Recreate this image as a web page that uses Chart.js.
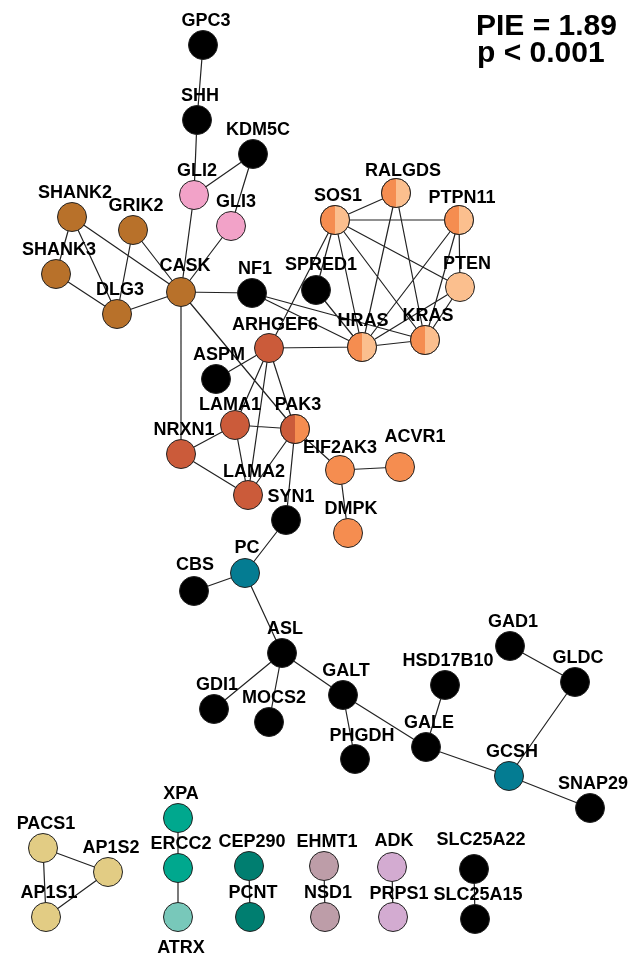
<!DOCTYPE html>
<html>
<head>
<meta charset="utf-8">
<script src="https://cdn.jsdelivr.net/npm/chart.js@4.4.1/dist/chart.umd.min.js"></script>
<style>
html,body{margin:0;padding:0;background:#fff;}
#c{display:block;}
</style>
</head>
<body>
<canvas id="c" width="637" height="956"></canvas>
<script>
// ---------- DATA ----------
const nodeNames = ["GPC3","SHH","KDM5C","GLI2","GLI3","SHANK2","GRIK2","SHANK3","CASK","DLG3","NF1","SPRED1","SOS1","RALGDS","PTPN11","PTEN","HRAS","KRAS","ARHGEF6","ASPM","LAMA1","PAK3","NRXN1","LAMA2","EIF2AK3","ACVR1","DMPK","SYN1","PC","CBS","ASL","GDI1","MOCS2","GALT","PHGDH","HSD17B10","GALE","GAD1","GLDC","GCSH","SNAP29","PACS1","AP1S2","AP1S1","XPA","ERCC2","ATRX","CEP290","PCNT","EHMT1","NSD1","ADK","PRPS1","SLC25A22","SLC25A15"];
const nodeX = [203,197,253,194,231,72,133,56,181,117,252,316,335,396,459,460,362,425,269,216,235,295,181,248,340,400,348,286,245,194,282,214,269,343,355,445,426,510,575,509,590,43,108,46,178,178,178,249,250,324,325,392,393,474,475];
const nodeY = [45,120,154,195,226,217,230,274,292,314,293,290,220,193,220,287,347,340,348,379,425,429,454,495,470,467,533,520,573,591,653,709,722,695,759,685,747,646,682,776,808,848,872,917,818,868,917,866,917,866,917,867,917,869,919];
const nodeGroup = ["none","none","none","pink","pink","brown","brown","brown","brown","brown","none","none","ras","ras","ras","light","ras","ras","red","none","red","redorange","red","red","orange","orange","orange","none","teal","none","none","none","none","none","none","none","none","none","none","teal","none","yellow","yellow","yellow","green","green","mint","dgreen","dgreen","mauve","mauve","lilac","lilac","none","none"];
const edges = [
 ["GPC3","SHH"],["SHH","GLI2"],["GLI2","KDM5C"],["KDM5C","GLI3"],["GLI2","CASK"],["GLI3","CASK"],
 ["SHANK2","SHANK3"],["SHANK2","DLG3"],["SHANK2","CASK"],["GRIK2","DLG3"],["GRIK2","CASK"],["SHANK3","DLG3"],["DLG3","CASK"],
 ["CASK","NF1"],["CASK","NRXN1"],["CASK","PAK3"],["NF1","HRAS"],["NF1","KRAS"],["SPRED1","HRAS"],["SOS1","SPRED1"],["SOS1","ARHGEF6"],
 ["SOS1","RALGDS"],["SOS1","PTPN11"],["SOS1","HRAS"],["SOS1","KRAS"],["SOS1","PTEN"],["RALGDS","HRAS"],["RALGDS","KRAS"],
 ["PTPN11","HRAS"],["PTPN11","KRAS"],["PTPN11","PTEN"],["PTEN","HRAS"],["PTEN","KRAS"],["HRAS","KRAS"],["ARHGEF6","HRAS"],
 ["ARHGEF6","ASPM"],["ARHGEF6","LAMA1"],["ARHGEF6","LAMA2"],["ARHGEF6","PAK3"],["LAMA1","PAK3"],["LAMA1","NRXN1"],["LAMA1","LAMA2"],
 ["NRXN1","LAMA2"],["PAK3","LAMA2"],["PAK3","SYN1"],["PAK3","EIF2AK3"],["EIF2AK3","ACVR1"],["EIF2AK3","DMPK"],
 ["SYN1","PC"],["PC","CBS"],["PC","ASL"],["ASL","GDI1"],["ASL","MOCS2"],["ASL","GALT"],["GALT","PHGDH"],["GALT","GALE"],
 ["GALE","HSD17B10"],["GALE","GCSH"],["GCSH","GLDC"],["GCSH","SNAP29"],["GAD1","GLDC"],
 ["PACS1","AP1S2"],["PACS1","AP1S1"],["AP1S1","AP1S2"],["XPA","ERCC2"],["ERCC2","ATRX"],["CEP290","PCNT"],["EHMT1","NSD1"],["ADK","PRPS1"],["SLC25A22","SLC25A15"]
];
const annotationLines = ["PIE = 1.89","p < 0.001"];

// ---------- STYLE ----------
const groupColor = {
  none:"#000000", pink:"#F2A2C8", brown:"#B8712A", red:"#CB5B3A", orange:"#F58D50", light:"#FBBF8E",
  teal:"#047C92", yellow:"#E2CC84", green:"#00A88E", mint:"#78C8BA", dgreen:"#007E70", mauve:"#BD9DA8", lilac:"#D3ABD1",
  ras:"#F58D50", redorange:"#CB5B3A"
};
const splitColors = { ras:["#F58D50","#FBBF8E"], redorange:["#CB5B3A","#F58D50"] };
const labelOffset = {
  LAMA1:[-5,-15], ACVR1:[15,-25], ATRX:[3,36], ARHGEF6:[6,-18], LAMA2:[6,-18], PHGDH:[7,-18], RALGDS:[7,-17],
  PTEN:[7,-18], SLC25A22:[7,-24], PRPS1:[6,-18], KDM5C:[5,-19], GLI3:[5,-19], SPRED1:[5,-20], CASK:[4,-21],
  HRAS:[1,-21], EIF2AK3:[0,-17], PC:[2,-20], CBS:[1,-21], ADK:[2,-21], PTPN11:[3,-17], SYN1:[5,-18], MOCS2:[5,-19]
};
const R = 14.5;

const idx = {};
nodeNames.forEach((n,i)=>idx[n]=i);

const edgeData = [];
edges.forEach(([a,b])=>{
  edgeData.push({x:nodeX[idx[a]],y:nodeY[idx[a]]});
  edgeData.push({x:nodeX[idx[b]],y:nodeY[idx[b]]});
  edgeData.push({x:NaN,y:NaN});
});
const nodeData = nodeNames.map((n,i)=>({x:nodeX[i],y:nodeY[i]}));

const overlayPlugin = {
  id:'overlay',
  afterDatasetsDraw(chart){
    const ctx = chart.ctx;
    const meta = chart.getDatasetMeta(1);
    meta.data.forEach((el,i)=>{
      const g = nodeGroup[i];
      if(splitColors[g]){
        const [c1,c2] = splitColors[g];
        ctx.save();
        ctx.beginPath(); ctx.moveTo(el.x,el.y-R); ctx.arc(el.x,el.y,R,-Math.PI/2,Math.PI/2,true); ctx.closePath();
        ctx.fillStyle=c1; ctx.fill();
        ctx.beginPath(); ctx.moveTo(el.x,el.y-R); ctx.arc(el.x,el.y,R,-Math.PI/2,Math.PI/2,false); ctx.closePath();
        ctx.fillStyle=c2; ctx.fill();
        ctx.beginPath(); ctx.arc(el.x,el.y,R,0,Math.PI*2);
        ctx.lineWidth=1; ctx.strokeStyle="#222"; ctx.stroke();
        ctx.restore();
      }
    });
    ctx.save();
    ctx.font = 'bold 18px "Liberation Sans", Arial, sans-serif';
    ctx.fillStyle = "#000";
    ctx.textAlign = "center";
    ctx.textBaseline = "alphabetic";
    meta.data.forEach((el,i)=>{
      const off = labelOffset[nodeNames[i]] || [3,-19];
      ctx.fillText(nodeNames[i], el.x+off[0], el.y+off[1]);
    });
    ctx.font = 'bold 30px "Liberation Sans", Arial, sans-serif';
    ctx.textAlign = "left";
    ctx.fillText(annotationLines[0], 476, 35);
    ctx.fillText(annotationLines[1], 477, 62);
    ctx.restore();
  }
};

new Chart(document.getElementById('c'), {
  type:'scatter',
  data:{
    datasets:[
      { type:'line', data:edgeData, borderColor:'#222', borderWidth:1.2, pointRadius:0, showLine:true, spanGaps:false, fill:false, order:2, clip:false },
      { type:'scatter', data:nodeData, pointRadius:R, pointHoverRadius:R,
        pointBackgroundColor:nodeGroup.map(g=>groupColor[g]), pointBorderColor:'#222', pointBorderWidth:1, order:1, clip:false }
    ]
  },
  options:{
    responsive:false, animation:false, devicePixelRatio:1,
    layout:{padding:0, autoPadding:false},
    plugins:{legend:{display:false}, tooltip:{enabled:false}, title:{display:false}},
    events:[],
    scales:{
      x:{type:'linear', min:0, max:637, display:false},
      y:{type:'linear', min:0, max:956, reverse:true, display:false}
    }
  },
  plugins:[overlayPlugin]
});
</script>
</body>
</html>
